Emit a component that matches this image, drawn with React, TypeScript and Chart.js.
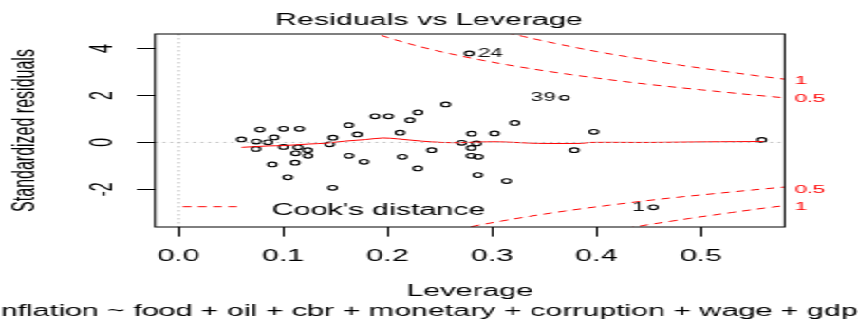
import React, { useEffect, useRef } from "react";
import { Chart, registerables } from "chart.js";

Chart.register(...registerables);

const FONT = "'Liberation Sans', Arial, Helvetica, sans-serif";
const CANVAS_W = 452;
const CANVAS_H = 322;
const PAGE_W = 858;

// ---- data ----
const leverage = [
  0.0602, 0.0779, 0.0744, 0.0741, 0.0856, 0.0915, 0.1004, 0.1157, 0.1004, 0.1143,
  0.1121, 0.1236, 0.1239, 0.0897, 0.1116, 0.1045, 0.1475, 0.1446, 0.1478, 0.1629,
  0.1711, 0.1631, 0.1775, 0.188, 0.201, 0.2215, 0.2292, 0.212, 0.2557, 0.2142,
  0.2423, 0.2289, 0.271, 0.2804, 0.2852, 0.2801, 0.2799, 0.2869, 0.2864, 0.3024,
  0.3139, 0.3218, 0.3975, 0.3788, 0.5583,
];
const stdResid = [
  0.128, 0.545, 0.034, -0.277, 0.004, 0.213, 0.579, 0.579, -0.191, -0.209,
  -0.464, -0.328, -0.57, -0.936, -0.86, -1.485, -1.932, -0.081, 0.204, 0.736,
  0.34, -0.57, -0.826, 1.111, 1.111, 0.949, 1.277, 0.417, 1.617, -0.613,
  -0.328, -1.106, -0.017, 0.374, -0.043, -0.234, -0.57, -0.613, -1.391, 0.383,
  -1.647, 0.83, 0.451, -0.328, 0.106,
];
const idLabels = ["24", "39", "1"];
const idLeverage = [0.2782, 0.3693, 0.4545];
const idResid = [3.787, 1.898, -2.762];
const idSide = ["right", "left", "left"];

const smoothLeverage = [
  0.0604, 0.0856, 0.1002, 0.1239, 0.1418, 0.1593, 0.1785, 0.1957, 0.21, 0.2327,
  0.2519, 0.2694, 0.295, 0.3077, 0.327, 0.344, 0.386, 0.394, 0.451, 0.5056, 0.5598,
];
const smoothResid = [
  -0.21, -0.15, -0.135, -0.07, -0.03, 0.055, 0.12, 0.19, 0.15, 0.055,
  0.0, -0.01, 0.025, 0.025, -0.01, -0.04, -0.04, 0.0, 0.0, 0.025, 0.04,
];

const cookUp1Lev = [0.3, 0.33, 0.36, 0.4, 0.44, 0.48, 0.52, 0.56, 0.59];
const cookUp1Res = [4.83, 4.51, 4.22, 3.87, 3.57, 3.29, 3.04, 2.8, 2.64];
const cookUp05Lev = [0.17, 0.2, 0.23, 0.27, 0.31, 0.35, 0.4, 0.45, 0.5, 0.55, 0.59];
const cookUp05Res = [4.94, 4.47, 4.09, 3.68, 3.34, 3.05, 2.74, 2.47, 2.24, 2.02, 1.86];
const cookLo05Lev = [0.24, 0.26, 0.29, 0.33, 0.37, 0.42, 0.47, 0.52, 0.56, 0.59];
const cookLo05Res = [-3.98, -3.77, -3.5, -3.19, -2.92, -2.63, -2.37, -2.15, -1.98, -1.86];
const cookLo1Lev = [0.4, 0.42, 0.45, 0.49, 0.53, 0.56, 0.59];
const cookLo1Res = [-3.87, -3.72, -3.5, -3.23, -2.98, -2.8, -2.64];

const xRange = [-0.0225, 0.5802];
const yRange = [-3.6, 4.615];
const xTickValues = [0, 0.1, 0.2, 0.3, 0.4, 0.5];
const xTickLabels = ["0.0", "0.1", "0.2", "0.3", "0.4", "0.5"];
const yTickValues = [-2, 0, 2, 4];
const yTickLabels = ["-2", "0", "2", "4"];
const cookEdgeValues = [-2.75, -2.0, 1.85, 2.63];
const cookEdgeLabels = ["1", "0.5", "0.5", "1"];

const titleText = "Residuals vs Leverage";
const xTitle = "Leverage";
const yTitle = "Standardized residuals";
const subCaption = "lm(inflation ~ food + oil + cbr + monetary + corruption + wage + gdp)";
const legendText = "Cook's distance";

const pts = (xs: number[], ys: number[]) => xs.map((x, i) => ({ x, y: ys[i] }));

const decorPlugin = {
  id: "decor",
  afterDatasetsDraw(chart: any) {
    const { ctx, chartArea: a, scales } = chart;
    const x = scales.x;
    const y = scales.y;
    ctx.save();
    ctx.beginPath();
    ctx.rect(a.left, a.top, a.right - a.left, a.bottom - a.top);
    ctx.clip();
    ctx.strokeStyle = "#BEBEBE";
    ctx.lineWidth = 1;
    ctx.setLineDash([1.5, 2.5]);
    const y0 = y.getPixelForValue(0);
    ctx.beginPath();
    ctx.moveTo(a.left, y0);
    ctx.lineTo(a.right, y0);
    ctx.stroke();
    const x0 = x.getPixelForValue(0);
    ctx.beginPath();
    ctx.moveTo(x0, a.top);
    ctx.lineTo(x0, a.bottom);
    ctx.stroke();
    ctx.restore();
  },
  afterDraw(chart: any) {
    const { ctx, chartArea: a, scales } = chart;
    const x = scales.x;
    const y = scales.y;
    ctx.save();
    // plot box
    ctx.strokeStyle = "#000";
    ctx.lineWidth = 1;
    ctx.setLineDash([]);
    ctx.strokeRect(a.left, Math.round(a.top), a.right - a.left, Math.round(a.bottom) - Math.round(a.top));

    // identified point labels
    ctx.fillStyle = "#111";
    ctx.font = `12px ${FONT}`;
    ctx.textBaseline = "middle";
    idLabels.forEach((lab, i) => {
      const px = x.getPixelForValue(idLeverage[i]);
      const py = y.getPixelForValue(idResid[i]);
      if (idSide[i] === "right") {
        ctx.textAlign = "left";
        ctx.fillText(lab, px + 4.5, py);
      } else {
        ctx.textAlign = "right";
        ctx.fillText(lab, px - 4.5, py);
      }
    });

    // legend (bottom-left, no box)
    ctx.strokeStyle = "red";
    ctx.setLineDash([4.5, 3.5]);
    ctx.beginPath();
    ctx.moveTo(a.left + 14.6, a.bottom - 20.3);
    ctx.lineTo(a.left + 45.2, a.bottom - 20.3);
    ctx.stroke();
    ctx.setLineDash([]);
    ctx.fillStyle = "#000";
    ctx.font = `16px ${FONT}`;
    ctx.textAlign = "left";
    ctx.textBaseline = "alphabetic";
    ctx.fillText(legendText, a.left + 61.5, a.bottom - 12.5);

    // sub caption (model formula), clipped by the picture edges
    ctx.textAlign = "right";
    const closeW = ctx.measureText(")").width;
    ctx.fillText(subCaption, 451.8 + closeW, 316);
    ctx.restore();
  },
};

export default function App() {
  const ref = useRef<HTMLCanvasElement>(null);

  useEffect(() => {
    const canvas = ref.current;
    if (!canvas) return;
    const font16 = { family: FONT, size: 16, weight: "normal" as const };
    const cookStyle = {
      showLine: true,
      borderColor: "red",
      borderWidth: 1,
      borderDash: [4.5, 3.5],
      pointRadius: 0,
      cubicInterpolationMode: "monotone" as const,
      fill: false,
      order: 1,
    };
    const chart = new Chart(canvas, {
      type: "scatter",
      data: {
        datasets: [
          {
            label: "points",
            data: pts(leverage.concat(idLeverage), stdResid.concat(idResid)),
            pointStyle: "circle",
            pointRadius: 2.3,
            borderColor: "#000",
            backgroundColor: "rgba(0,0,0,0)",
            borderWidth: 1.1,
            showLine: false,
            order: 3,
          },
          {
            label: "smooth",
            data: pts(smoothLeverage, smoothResid),
            showLine: true,
            borderColor: "red",
            borderWidth: 1,
            pointRadius: 0,
            tension: 0.3,
            fill: false,
            order: 2,
          },
          { label: "cook1u", data: pts(cookUp1Lev, cookUp1Res), ...cookStyle },
          { label: "cook05u", data: pts(cookUp05Lev, cookUp05Res), ...cookStyle },
          { label: "cook05l", data: pts(cookLo05Lev, cookLo05Res), ...cookStyle },
          { label: "cook1l", data: pts(cookLo1Lev, cookLo1Res), ...cookStyle },
        ],
      },
      options: {
        responsive: false,
        animation: false,
        devicePixelRatio: 1,
        events: [],
        layout: { padding: { top: 0, left: 0, right: 0, bottom: 21.1 } },
        plugins: {
          legend: { display: false },
          tooltip: { enabled: false },
          title: {
            display: true,
            text: titleText,
            color: "#000",
            font: font16,
            padding: { top: 10.9, bottom: 3.9 },
          },
        },
        scales: {
          x: {
            type: "linear",
            position: "bottom",
            min: xRange[0],
            max: xRange[1],
            afterBuildTicks: (s: any) => {
              s.ticks = xTickValues.map((v) => ({ value: v }));
            },
            afterFit: (s: any) => {
              s.height = 73.9;
            },
            ticks: {
              autoSkip: false,
              minRotation: 0,
              maxRotation: 0,
              padding: 10,
              color: "#000",
              font: font16,
              callback: (v: any) => xTickLabels[xTickValues.indexOf(Number(v))],
            },
            grid: {
              display: true,
              drawOnChartArea: false,
              drawTicks: true,
              tickLength: 9.6,
              color: "#000",
              lineWidth: 1,
            },
            border: { display: false },
            title: {
              display: true,
              text: xTitle,
              color: "#000",
              font: font16,
              padding: { top: 0, bottom: 0 },
            },
          },
          y: {
            type: "linear",
            position: "left",
            min: yRange[0],
            max: yRange[1],
            afterBuildTicks: (s: any) => {
              s.ticks = yTickValues.map((v) => ({ value: v }));
            },
            afterFit: (s: any) => {
              s.width = 81.7;
            },
            ticks: {
              autoSkip: false,
              minRotation: 90,
              maxRotation: 90,
              crossAlign: "center",
              padding: 10,
              color: "#000",
              font: font16,
              callback: (v: any) => yTickLabels[yTickValues.indexOf(Number(v))],
            },
            grid: {
              display: true,
              drawOnChartArea: false,
              drawTicks: true,
              tickLength: 9.6,
              color: "#000",
              lineWidth: 1,
            },
            border: { display: false },
            title: {
              display: true,
              text: yTitle,
              color: "#000",
              font: font16,
              padding: { top: 3.6, bottom: 0 },
            },
          },
          y2: {
            type: "linear",
            position: "right",
            min: yRange[0],
            max: yRange[1],
            afterBuildTicks: (s: any) => {
              s.ticks = cookEdgeValues.map((v) => ({ value: v }));
            },
            afterFit: (s: any) => {
              s.width = 38.6;
            },
            ticks: {
              autoSkip: false,
              padding: 5.3,
              color: "red",
              font: { family: FONT, size: 11.5 },
              callback: (v: any) => cookEdgeLabels[cookEdgeValues.indexOf(Number(v))],
            },
            grid: { display: false, drawTicks: false, drawOnChartArea: false },
            border: { display: false },
          },
        },
      },
      plugins: [decorPlugin],
    } as any);
    return () => chart.destroy();
  }, []);

  return (
    <div
      style={{
        position: "absolute",
        left: 0,
        top: 0,
        width: CANVAS_W,
        height: CANVAS_H,
        background: "#fff",
        transform: `scaleX(${PAGE_W / CANVAS_W})`,
        transformOrigin: "0 0",
      }}
    >
      <canvas
        ref={ref}
        width={CANVAS_W}
        height={CANVAS_H}
        style={{ display: "block", width: CANVAS_W, height: CANVAS_H }}
      />
    </div>
  );
}
